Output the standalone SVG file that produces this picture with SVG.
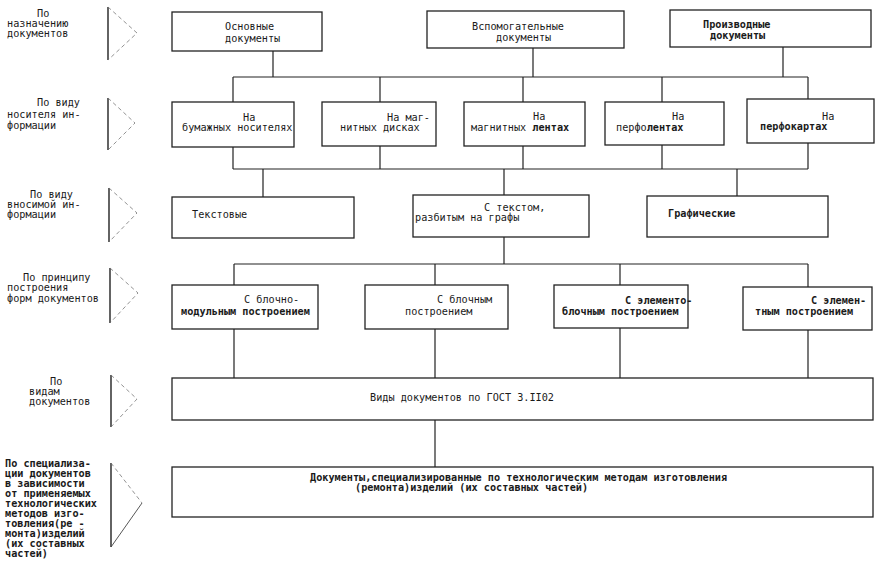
<svg xmlns="http://www.w3.org/2000/svg" width="885" height="565" viewBox="0 0 885 565">
<style>
  .bg{fill:#ffffff}
  .box{fill:#ffffff;stroke:#222;stroke-width:1.3}
  .ln{fill:none;stroke:#222;stroke-width:1.2}
  .t{font-family:"DejaVu Sans Mono","Liberation Mono",monospace;font-size:10.2px;fill:#1a1a1a}
  .b{font-weight:bold}
  .cv{fill:none;stroke:#222;stroke-width:1.4}
  .cd{fill:none;stroke:#777;stroke-width:0.8;stroke-dasharray:4 3}
  .cs{fill:none;stroke:#444;stroke-width:0.9}
</style>
<rect class="bg" x="0" y="0" width="885" height="565"/>

<g id="labels">
  <text class="t"><tspan x="37" y="17">По</tspan><tspan x="7" y="27">назначению</tspan><tspan x="7" y="37">документов</tspan></text>
  <text class="t"><tspan x="37" y="106">По виду</tspan><tspan x="7" y="118">носителя ин-</tspan><tspan x="7" y="129">формации</tspan></text>
  <text class="t"><tspan x="30" y="198">По виду</tspan><tspan x="7" y="208">вносимой ин-</tspan><tspan x="7" y="218">формации</tspan></text>
  <text class="t"><tspan x="23" y="281">По принципу</tspan><tspan x="7" y="291">построения</tspan><tspan x="7" y="302">форм документов</tspan></text>
  <text class="t"><tspan x="50" y="385">По</tspan><tspan x="29" y="395">видам</tspan><tspan x="29" y="405">документов</tspan></text>
  <text class="t b"><tspan x="5" y="467">По специализа-</tspan><tspan x="5" y="477">ции документов</tspan><tspan x="5" y="487">в зависимости</tspan><tspan x="5" y="497">от применяемых</tspan><tspan x="5" y="507">технологических</tspan><tspan x="5" y="517">методов изго-</tspan><tspan x="5" y="527">товления(ре -</tspan><tspan x="5" y="537">монта)изделий</tspan><tspan x="5" y="547">(их составных</tspan><tspan x="5" y="557">частей)</tspan></text>
</g>

<g id="chevrons">
  <path class="cv" d="M108 7 V60"/><path class="cd" d="M108 7 L137 33 L108 60"/>
  <path class="cv" d="M108 98 V150"/><path class="cd" d="M108 98 L135 123 L108 150"/>
  <path class="cv" d="M109 188 V242"/><path class="cd" d="M109 188 L137 213 L109 242"/>
  <path class="cv" d="M110 268 V323"/><path class="cd" d="M110 268 L138 293 L110 323"/>
  <path class="cv" d="M111 375 V427"/><path class="cd" d="M111 375 L137 399 L111 427"/>
  <path class="cv" d="M111 463 V547"/><path class="cd" d="M111 463 L142 503"/><path class="cs" d="M142 503 L111 547"/>
</g>

<g id="connectors">
  <path class="ln" d="M273 51 V77 M533 48 V77 M783 47 V77 M233 77 H808"/>
  <path class="ln" d="M233 77 V102 M380 77 V102 M523 77 V102 M662 77 V102 M808 77 V99"/>
  <path class="ln" d="M233 147 V169 M380 146 V169 M523 146 V169 M662 145 V169 M808 143 V169 M233 169 H808"/>
  <path class="ln" d="M263 169 V197 M504 169 V195 M737 169 V196"/>
  <path class="ln" d="M504 237 V264 M234 264 H808"/>
  <path class="ln" d="M234 264 V285 M435 264 V285 M620 264 V285 M808 264 V287"/>
  <path class="ln" d="M234 329 V378 M435 329 V378 M620 328 V378 M808 330 V378"/>
  <path class="ln" d="M435 420 V467"/>
</g>

<g id="n-osnovnye"><rect class="box" x="172" y="12" width="150" height="39"/><text class="t"><tspan x="225" y="30">Основные</tspan><tspan x="225" y="42">документы</tspan></text></g>
<g id="n-vspomog"><rect class="box" x="427" y="11" width="197" height="37"/><text class="t"><tspan x="472" y="30">Вспомогательные</tspan><tspan x="496" y="41">документы</tspan></text></g>
<g id="n-proizv"><rect class="box" x="670" y="10" width="201" height="37"/><text class="t b"><tspan x="703" y="28">Производные</tspan><tspan x="710" y="39">документы</tspan></text></g>

<g id="n-bum"><rect class="box" x="172" y="102" width="122" height="45"/><text class="t"><tspan x="243" y="121">На</tspan><tspan x="182" y="131">бумажных носителях</tspan></text></g>
<g id="n-disk"><rect class="box" x="322" y="102" width="114" height="44"/><text class="t"><tspan x="387" y="121">На маг-</tspan><tspan x="340" y="131">нитных дисках</tspan></text></g>
<g id="n-lent"><rect class="box" x="464" y="102" width="121" height="44"/><text class="t"><tspan x="533" y="120">На</tspan><tspan x="471" y="131">магнитных <tspan class="b">лентах</tspan></tspan></text></g>
<g id="n-perfol"><rect class="box" x="605" y="102" width="119" height="43"/><text class="t"><tspan x="672" y="120">На</tspan><tspan x="616" y="131">перфо<tspan class="b">лентах</tspan></tspan></text></g>
<g id="n-perfok"><rect class="box" x="747" y="99" width="127" height="44"/><text class="t"><tspan x="822" y="120">На</tspan><tspan class="b" x="760" y="130">перфокартах</tspan></text></g>

<g id="n-tekst"><rect class="box" x="172" y="197" width="182" height="41"/><text class="t" x="192" y="218">Текстовые</text></g>
<g id="n-graf-tekst"><rect class="box" x="413" y="195" width="176" height="42"/><text class="t"><tspan x="484" y="211">С текстом,</tspan><tspan x="415" y="221">разбитым на графы</tspan></text></g>
<g id="n-grafich"><rect class="box" x="647" y="196" width="181" height="41"/><text class="t b" x="668" y="217">Графические</text></g>

<g id="n-blmod"><rect class="box" x="172" y="285" width="146" height="44"/><text class="t"><tspan x="244" y="303">С блочно-</tspan><tspan class="b" x="181" y="315">модульным построением</tspan></text></g>
<g id="n-bl"><rect class="box" x="365" y="285" width="143" height="44"/><text class="t"><tspan x="437" y="303">С блочным</tspan><tspan x="405" y="315">построением</tspan></text></g>
<g id="n-elbl"><rect class="box" x="554" y="285" width="134" height="43"/><text class="t b"><tspan x="625" y="304">С элементо-</tspan><tspan x="562" y="315">блочным построением</tspan></text></g>
<g id="n-el"><rect class="box" x="743" y="287" width="129" height="43"/><text class="t b"><tspan x="811" y="304">С элемен-</tspan><tspan x="755" y="315">тным построением</tspan></text></g>

<g id="n-vidy"><rect class="box" x="172" y="378" width="701" height="42"/><text class="t" x="370" y="401">Виды документов по ГОСТ 3.II02</text></g>
<g id="n-spec"><rect class="box" x="172" y="467" width="701" height="50"/><text class="t b"><tspan x="310" y="481">Документы,специализированные по технологическим методам изготовления</tspan><tspan x="355" y="491">(ремонта)изделий (их составных частей)</tspan></text></g>
</svg>
